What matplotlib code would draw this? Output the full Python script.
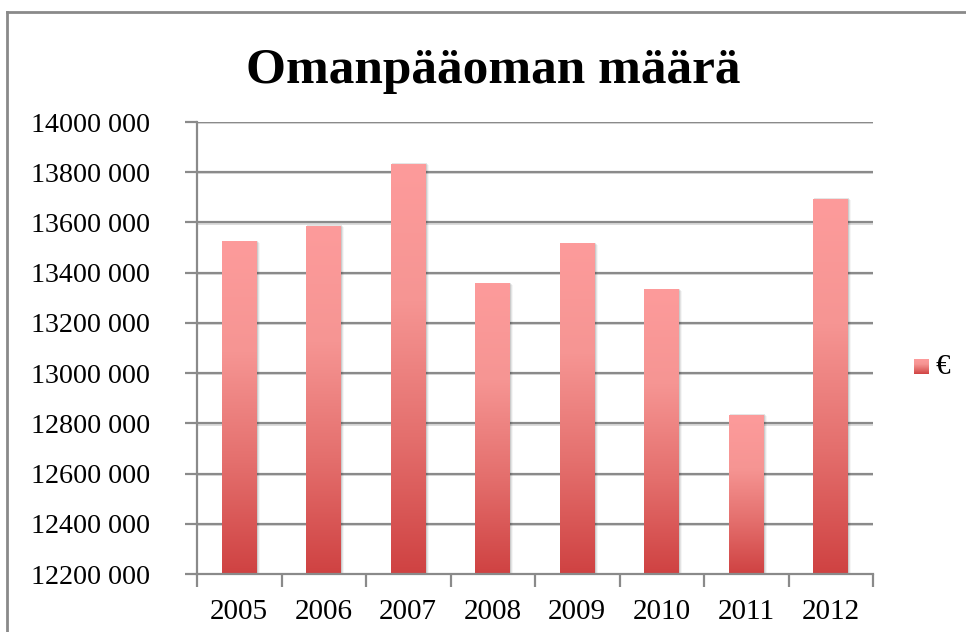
import numpy as np
import matplotlib
matplotlib.use("Agg")
import matplotlib.pyplot as plt
from matplotlib.patches import Rectangle
from matplotlib.lines import Line2D
from matplotlib.colors import LinearSegmentedColormap

years = ["2005", "2006", "2007", "2008", "2009", "2010", "2011", "2012"]
values = [13524000, 13584000, 13832000, 13356000, 13516000, 13332000, 12832000, 13692000]
y_ticks = [12200000, 12400000, 12600000, 12800000, 13000000, 13200000, 13400000, 13600000, 13800000, 14000000]
y_tick_labels = ["12200 000", "12400 000", "12600 000", "12800 000", "13000 000",
                 "13200 000", "13400 000", "13600 000", "13800 000", "14000 000"]
title = "Omanpääoman määrä"
series_name = "€"

W, H = 966, 632
fig = plt.figure(figsize=(W / 100, H / 100), dpi=100)
fig.patch.set_facecolor("white")

serif = ["Liberation Serif", "DejaVu Serif"]

# outer chart frame (top and left)
fig.add_artist(Line2D([7 / W, 1.0], [1 - 12 / H, 1 - 12 / H], color="#8a8a8a", lw=2.0))
fig.add_artist(Line2D([7 / W, 7 / W], [0, 1 - 12 / H], color="#8a8a8a", lw=2.0))

ax = fig.add_axes([197 / W, (H - 574) / H, (873 - 197) / W, (574 - 122) / H])
ax.set_facecolor("none")

cmap = LinearSegmentedColormap.from_list("barg", ["#cf4242", "#e46f6d", "#f69593", "#fd9b9b"])
grad = np.linspace(0, 1, 256).reshape(-1, 1)

x = np.arange(len(years))
width = 0.414
ymin, ymax = 12200000, 14000000

# grid lines with subtle shadow
for t in y_ticks[1:]:
    ax.axhline(t - 5000, color="#d6d6d6", lw=1.2, zorder=0.5)
    ax.axhline(t, color="#8a8a8a", lw=1.6, zorder=0.6)

bars = ax.bar(x, [v - ymin for v in values], width=width, bottom=ymin, color="#cf4242",
              zorder=2, linewidth=0)
for b in bars:
    x0, y0 = b.get_x(), b.get_y()
    w, h = b.get_width(), b.get_height()
    # soft shadow
    for k, a in enumerate([0.10, 0.07, 0.04]):
        ax.add_patch(Rectangle((x0 + 0.012 * (k + 1), y0), w, h - 4000 * (k + 1) + 8000,
                               facecolor="black", alpha=a, linewidth=0, zorder=1.5))
    ax.imshow(grad, extent=[x0, x0 + w, y0, y0 + h], origin="lower", cmap=cmap,
              aspect="auto", zorder=3, interpolation="bilinear")

ax.set_xlim(-0.5, len(years) - 0.5)
ax.set_ylim(ymin, ymax)

for s in ["top", "right"]:
    ax.spines[s].set_visible(False)
for s in ["left", "bottom"]:
    ax.spines[s].set_color("#8a8a8a")
    ax.spines[s].set_linewidth(1.6)
    ax.spines[s].set_zorder(4)

ax.set_yticks(y_ticks)
ax.set_yticklabels(y_tick_labels, family=serif, fontsize=20.2)
ax.tick_params(axis="y", length=9, width=1.6, color="#8a8a8a", pad=25, direction="out")

ax.set_xticks(x)
ax.set_xticklabels(years, family=serif, fontsize=21)
ax.tick_params(axis="x", which="major", length=0, pad=18)
ax.set_xticks(np.arange(len(years) + 1) - 0.5, minor=True)
ax.tick_params(axis="x", which="minor", length=9, width=1.6, color="#8a8a8a", direction="out")

fig.text(493 / W, 1 - 83 / H, title, ha="center", va="baseline", family=serif,
         fontweight="bold", fontsize=37)

# legend
lax = fig.add_axes([914 / W, (H - 374) / H, 15 / W, 15 / H])
lax.imshow(grad, origin="lower", cmap=cmap, aspect="auto", extent=[0, 1, 0, 1])
lax.set_axis_off()
fig.text(935 / W, 1 - 367 / H, series_name, ha="left", va="center", family=serif, fontsize=21)

fig.savefig("out.png", dpi=100, facecolor="white")
